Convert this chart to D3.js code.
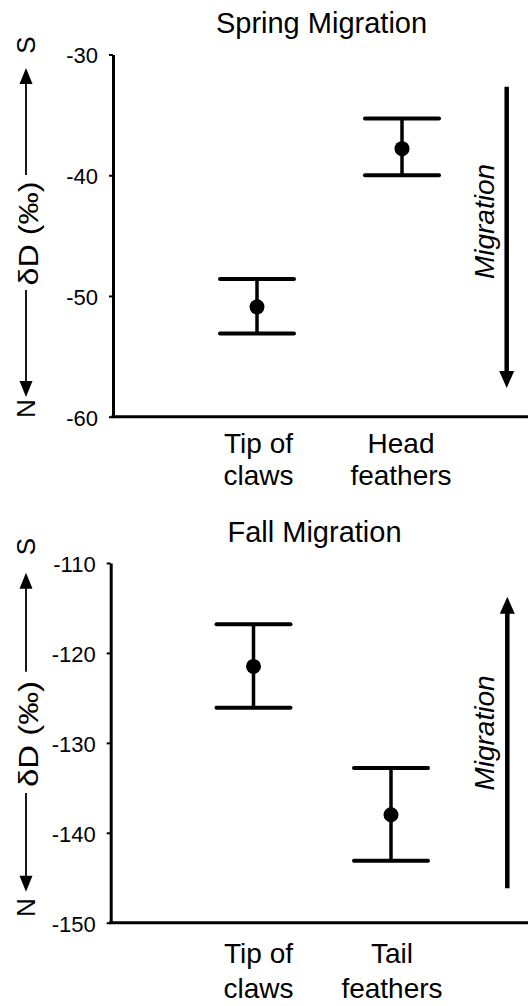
<!DOCTYPE html>
<html>
<head>
<meta charset="utf-8">
<script src="https://cdn.jsdelivr.net/npm/d3@7"></script>
<style>
  body { margin: 0; background: #fff; }
  text { font-family: "Liberation Sans", Arial, sans-serif; fill: #000; }
</style>
</head>
<body>
<script>
// data (delta D, per mil)
const springCats = ['Tip of claws', 'Head feathers'];
const springLabels = [['Tip of', 'claws'], ['Head', 'feathers']];
const springMean = [-50.9, -37.8];
const springLow = [-53.1, -40.0];
const springHigh = [-48.6, -35.3];
const springTicks = [-30, -40, -50, -60];

const fallCats = ['Tip of claws', 'Tail feathers'];
const fallLabels = [['Tip of', 'claws'], ['Tail', 'feathers']];
const fallMean = [-121.5, -138.0];
const fallLow = [-126.1, -143.1];
const fallHigh = [-116.8, -132.8];
const fallTicks = [-110, -120, -130, -140, -150];

const svg = d3.select('body')
  .append('svg')
  .attr('width', 528)
  .attr('height', 1006);

// simple arrow: shaft from (x, y0) to tip at (x, y1)
function arrow(g, x, y0, y1, w, hw, hh) {
  const dir = y1 > y0 ? 1 : -1;
  g.append('line')
    .attr('x1', x).attr('x2', x)
    .attr('y1', y0).attr('y2', y1 - dir * (hh - 1))
    .attr('stroke', '#000')
    .attr('stroke-width', w);
  g.append('path')
    .attr('d', `M${x},${y1} L${x - hw / 2},${y1 - dir * hh} L${x + hw / 2},${y1 - dir * hh} Z`)
    .attr('fill', '#000');
}

function drawPanel(p) {
  const g = svg.append('g');

  const y = d3.scaleLinear()
    .domain([d3.min(p.ticks), d3.max(p.ticks)])
    .range([p.bottom, p.top]);

  const x = d3.scalePoint()
    .domain(p.cats)
    .range(p.xRange);

  // y axis (plain hyphen minus like the original)
  const yAxis = d3.axisLeft(y)
    .tickValues(p.ticks)
    .tickSize(4)
    .tickSizeOuter(0)
    .tickPadding(11)
    .tickFormat(d => String(d));

  const ax = g.append('g')
    .attr('transform', `translate(${p.left},0)`)
    .call(yAxis);
  ax.select('.domain').attr('stroke-width', 3);
  ax.selectAll('.tick line').attr('stroke-width', 2);
  ax.selectAll('.tick text')
    .attr('font-size', 22)
    .attr('dy', '0.38em')
    .style('font-family', '"Liberation Sans", Arial, sans-serif');

  // x axis line
  g.append('line')
    .attr('x1', p.left - 1.5).attr('x2', 528)
    .attr('y1', p.bottom).attr('y2', p.bottom)
    .attr('stroke', '#000')
    .attr('stroke-width', 3);

  // category labels
  p.labels.forEach((lines, i) => {
    const t = g.append('text')
      .attr('text-anchor', 'middle')
      .attr('font-size', 28);
    lines.forEach((s, j) => {
      t.append('tspan')
        .attr('x', x(p.cats[i]) + p.labelShift[i])
        .attr('y', p.bottom + p.labelDy[j])
        .text(s);
    });
  });

  // error bars
  const capHalf = 37;
  p.cats.forEach((c, i) => {
    const cx = x(c);
    g.append('line')
      .attr('x1', cx).attr('x2', cx)
      .attr('y1', y(p.high[i])).attr('y2', y(p.low[i]))
      .attr('stroke', '#000').attr('stroke-width', 3.5);
    [p.high[i], p.low[i]].forEach(v => {
      g.append('line')
        .attr('x1', cx - capHalf).attr('x2', cx + capHalf)
        .attr('y1', y(v)).attr('y2', y(v))
        .attr('stroke', '#000').attr('stroke-width', 4)
        .attr('stroke-linecap', 'round');
    });
    g.append('circle')
      .attr('cx', cx).attr('cy', y(p.mean[i]))
      .attr('r', 7.5)
      .attr('fill', '#000');
  });

  // title
  g.append('text')
    .attr('x', p.titleX).attr('y', p.titleY)
    .attr('text-anchor', 'middle')
    .attr('font-size', 29)
    .text(p.title);

  // y label: N <-- dD (per mil) --> S
  const yl = p.ylab;
  g.append('text')
    .attr('transform', `translate(35,${yl.s}) rotate(-90)`)
    .attr('text-anchor', 'middle')
    .attr('font-size', 26)
    .text('S');
  g.append('text')
    .attr('transform', `translate(35,${yl.n}) rotate(-90)`)
    .attr('text-anchor', 'middle')
    .attr('font-size', 26)
    .text('N');
  g.append('text')
    .attr('transform', `translate(37.5,${yl.mid}) rotate(-90)`)
    .attr('text-anchor', 'middle')
    .attr('font-size', 27)
    .attr('textLength', yl.len)
    .attr('lengthAdjust', 'spacingAndGlyphs')
    .text('\u03B4D (\u2030)');
  arrow(g, 26, yl.upFrom, yl.upTip, 1.8, 13, 16);
  arrow(g, 26, yl.downFrom, yl.downTip, 1.8, 13, 16);

  // migration arrow
  arrow(g, p.mig.x, p.mig.from, p.mig.tip, 4.5, 15, 17);
  g.append('text')
    .attr('transform', `translate(494,${p.mig.text}) rotate(-90)`)
    .attr('text-anchor', 'middle')
    .attr('font-size', 28)
    .attr('font-style', 'italic')
    .text('Migration');
}

drawPanel({
  title: 'Spring Migration', titleX: 321.5, titleY: 33,
  cats: springCats, labels: springLabels,
  mean: springMean, low: springLow, high: springHigh, ticks: springTicks,
  left: 113, top: 54.5, bottom: 416.7, xRange: [257, 402],
  labelShift: [1.5, -1], labelDy: [36.6, 68.5],
  ylab: { s: 45, n: 408.5, mid: 233.5, len: 104, upFrom: 175, upTip: 68, downFrom: 290, downTip: 397 },
  mig: { x: 506.7, from: 86.7, tip: 388, text: 221.5 }
});

drawPanel({
  title: 'Fall Migration', titleX: 314.5, titleY: 542,
  cats: fallCats, labels: fallLabels,
  mean: fallMean, low: fallLow, high: fallHigh, ticks: fallTicks,
  left: 110.7, top: 563, bottom: 922.7, xRange: [253.5, 391],
  labelShift: [5, 1], labelDy: [40.6, 75.6],
  ylab: { s: 546.5, n: 907.5, mid: 734, len: 106, upFrom: 671.7, upTip: 572.7, downFrom: 793, downTip: 891.7 },
  mig: { x: 507.3, from: 888.3, tip: 596.7, text: 733 }
});
</script>
</body>
</html>
